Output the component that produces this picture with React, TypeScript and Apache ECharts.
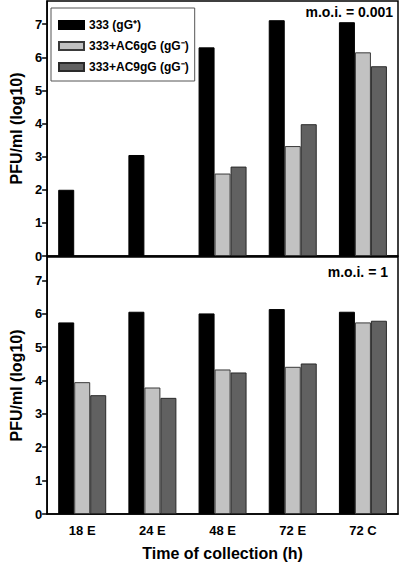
import React, { useEffect, useRef } from "react";
import * as echarts from "echarts";

const categories = ["18 E", "24 E", "48 E", "72 E", "72 C"];
const seriesNames = ["333 (gG\u207A)", "333+AC6gG (gG\u207B)", "333+AC9gG (gG\u207B)"];
const colors = ["#000000", "#c2c2c2", "#616161"];
const borderColors = ["#000000", "#3a3a3a", "#2a2a2a"];

const topBlack = [2.0, 3.05, 6.3, 7.12, 7.06];
const topLight = [null, null, 2.49, 3.32, 6.15];
const topDark = [null, null, 2.7, 3.98, 5.73];

const botBlack = [5.74, 6.06, 6.01, 6.14, 6.06];
const botLight = [3.95, 3.79, 4.33, 4.41, 5.74];
const botDark = [3.56, 3.48, 4.24, 4.51, 5.79];

const yTickValues = [0, 1, 2, 3, 4, 5, 6, 7];
const yMax = 7.7;
const yAxisTitle = "PFU/ml (log10)";
const xAxisTitle = "Time of collection (h)";
const panelLabels = ["m.o.i. = 0.001", "m.o.i. = 1"];

const FONT = "Liberation Sans";

export default function App() {
  const ref = useRef<HTMLDivElement>(null);
  useEffect(() => {
    if (!ref.current) return;
    const chart = echarts.init(ref.current, undefined, { renderer: "svg" });
    const topData = [topBlack, topLight, topDark];
    const botData = [botBlack, botLight, botDark];

    const makeY = (gridIndex: number) => ({
      type: "value",
      gridIndex,
      min: 0,
      max: yMax,
      interval: 1,
      name: yAxisTitle,
      nameLocation: "middle",
      nameGap: 21,
      nameTextStyle: { fontFamily: FONT, fontWeight: "bold", fontSize: 16, color: "#000" },
      axisLine: { show: true, lineStyle: { color: "#000", width: 1.5 } },
      axisTick: { show: true, length: 5, customValues: yTickValues, lineStyle: { color: "#000", width: 1.5 } },
      axisLabel: {
        customValues: yTickValues,
        fontFamily: FONT,
        fontWeight: "bold",
        fontSize: 13,
        color: "#000",
        margin: 5,
      },
      splitLine: { show: false },
    });

    const makeX = (gridIndex: number, showLabels: boolean) => ({
      type: "category",
      gridIndex,
      data: categories,
      name: showLabels ? xAxisTitle : "",
      nameLocation: "middle",
      nameGap: 31,
      nameTextStyle: { fontFamily: FONT, fontWeight: "bold", fontSize: 16, color: "#000" },
      axisLine: { show: true, lineStyle: { color: "#000", width: 1.5 } },
      axisTick: { show: false },
      axisLabel: {
        show: showLabels,
        fontFamily: FONT,
        fontWeight: "bold",
        fontSize: 13,
        color: "#000",
        margin: 10,
      },
    });

    const series: any[] = [];
    [topData, botData].forEach((panel, p) => {
      panel.forEach((vals, i) => {
        series.push({
          type: "bar",
          name: seriesNames[i],
          xAxisIndex: p,
          yAxisIndex: p,
          data: vals,
          barWidth: 16,
          barGap: "0%",
          itemStyle: { color: colors[i], borderColor: borderColors[i], borderWidth: 1 },
        });
      });
    });

    chart.setOption({
      animation: false,
      backgroundColor: "#fff",
      grid: [
        { left: 43, top: 1, width: 355, height: 255, show: true, borderColor: "#000", borderWidth: 1.5 },
        { left: 43, top: 257, width: 355, height: 257, show: true, borderColor: "#000", borderWidth: 1.5 },
      ],
      xAxis: [makeX(0, false), makeX(1, true)],
      yAxis: [makeY(0), makeY(1)],
      legend: {
        orient: "vertical",
        left: 51,
        top: 8,
        padding: [10, 6, 7, 7],
        itemGap: 7,
        itemWidth: 25,
        itemHeight: 8,
        icon: "rect",
        borderColor: "#555",
        borderWidth: 1,
        selectedMode: false,
        data: seriesNames,
        textStyle: {
          fontFamily: FONT,
          fontWeight: "bold",
          fontSize: 12,
          lineHeight: 14,
          color: "#000",
        },
      },
      graphic: [
        {
          type: "text",
          right: 7,
          top: 5,
          style: { text: panelLabels[0], font: `bold 14px ${FONT}`, fill: "#000" },
        },
        {
          type: "text",
          right: 12,
          top: 265,
          style: { text: panelLabels[1], font: `bold 14px ${FONT}`, fill: "#000" },
        },
      ],
      series,
    });
    return () => chart.dispose();
  }, []);
  return (
    <div
      ref={ref}
      style={{ position: "absolute", left: 0, top: 0, width: 400, height: 564 }}
    />
  );
}
